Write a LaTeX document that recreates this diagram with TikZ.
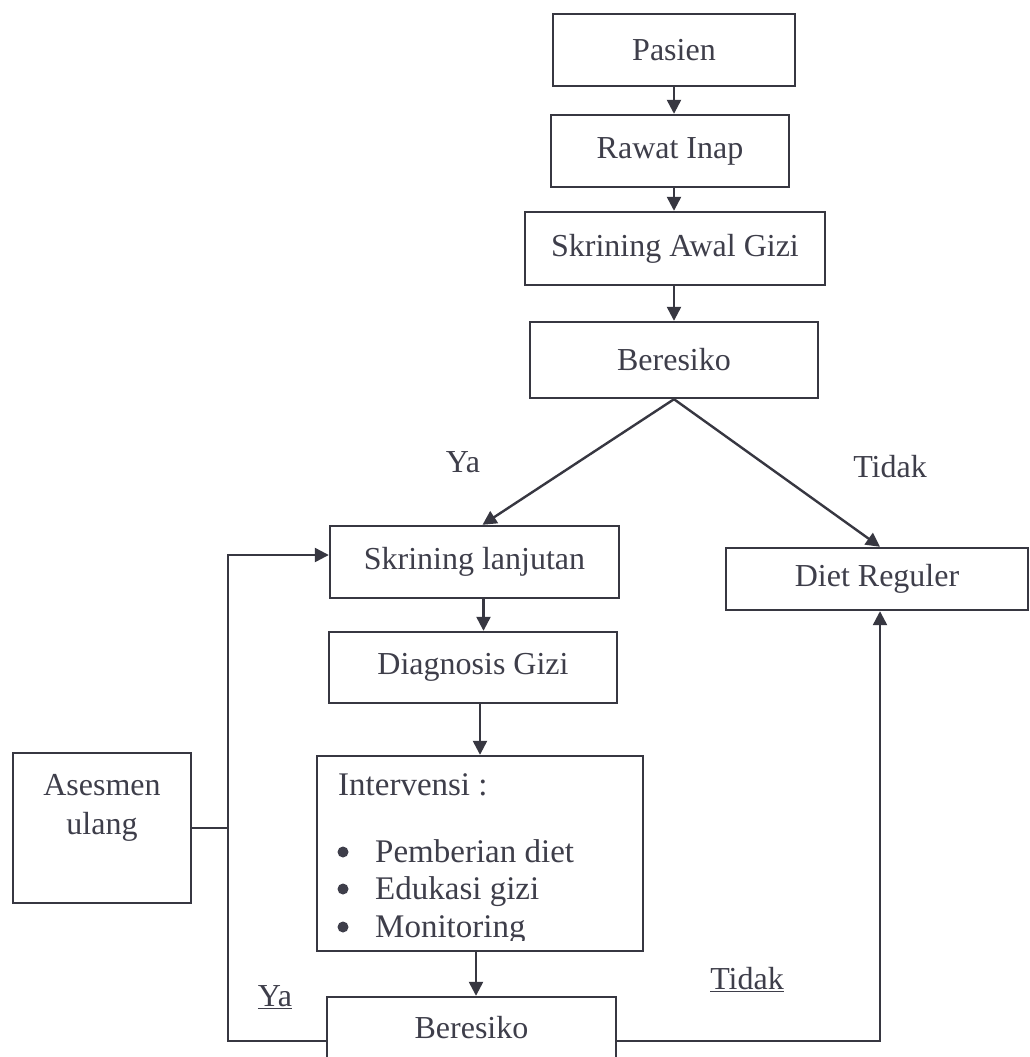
\documentclass[tikz,border=0pt]{standalone}
\usepackage{fontspec}
\setmainfont{Liberation Serif}
\usetikzlibrary{arrows.meta,calc}
\definecolor{txt}{RGB}{62,62,74}
\definecolor{ln}{RGB}{55,55,65}
\begin{document}
\begin{tikzpicture}[x=1pt,y=-1pt,
  box/.style={draw=ln, line width=2.4pt, text=txt, inner sep=0pt, font=\fontsize{32}{39}\selectfont, align=center},
  lbl/.style={text=txt, inner sep=0pt, font=\fontsize{32}{39}\selectfont},
  arr/.style={draw=ln, line width=2.4pt, -{Triangle[length=14pt,width=14pt]}},
  con/.style={draw=ln, line width=2.4pt},
  lst/.style={text=txt, inner sep=0pt, font=\fontsize{33}{40}\selectfont, anchor=base west},
  bul/.style={circle, fill=txt, inner sep=0pt, minimum size=11pt}]
\useasboundingbox (0,0) rectangle (1030,1057);
\fill[white] (0,0) rectangle (1030,1057);
\clip (0,0) rectangle (1030,1057);

\node[box, minimum width=242pt, minimum height=72pt] (pasien) at (674,50) {Pasien};
\node[box, minimum width=238pt, minimum height=72pt] (rawat) at (670,151) {Rawat Inap};
\node[box, minimum width=300pt, minimum height=73pt] (skrawal) at (675,248.5) {Skrining Awal Gizi};
\node[box, minimum width=288pt, minimum height=76pt] (ber1) at (674,360) {Beresiko};
\node[box, minimum width=289pt, minimum height=72pt] (sl) at (474.5,562) {Skrining lanjutan};
\node[box, minimum width=302pt, minimum height=62pt] (diet) at (877,579) {Diet Reguler};
\node[box, minimum width=288pt, minimum height=71pt] (diag) at (473,667.5) {Diagnosis Gizi};
\node[box, minimum width=326pt, minimum height=195pt] (int) at (480,853.5) {};
\node[box, minimum width=289pt, minimum height=62pt] (ber2) at (471.5,1028) {Beresiko};
\node[box, minimum width=178pt, minimum height=150pt, text depth=47pt] (ases) at (102,828) {Asesmen\\ulang};

\begin{scope}
\clip (317,756) rectangle (643,940);
\node[lst] (i0) at (338,795) {Intervensi :};
\node[lst] (i1) at (375,862) {Pemberian diet};
\node[lst] (i2) at (375,899) {Edukasi gizi};
\node[lst] (i3) at (375,937) {Monitoring};
\node[bul] (bu1) at (343,852) {};
\node[bul] (bu2) at (343,889) {};
\node[bul] (bu3) at (343,927) {};
\end{scope}

\node[lbl] (ya1) at (463,462) {Ya};
\node[lbl] (tdk1) at (890,467) {Tidak};
\node[lbl] (tdk2) at (747,980) {\underline{Tidak}};
\node[lbl] (ya2) at (275,997) {\underline{Ya}};

\draw[arr] (pasien.south) -- (pasien.south |- rawat.north);
\draw[arr] (rawat.south -| pasien.south) -- (pasien.south |- skrawal.north);
\draw[arr] (skrawal.south -| pasien.south) -- (pasien.south |- ber1.north);
\draw[arr] (ber1.south) -- ([xshift=8pt]sl.north);
\draw[arr] (ber1.south) -- ([xshift=3pt]diet.north);
\draw[arr] ([xshift=9pt]sl.south) -- ([xshift=9pt]sl.south |- diag.north);
\draw[arr] (int.north |- diag.south) -- (int.north);
\draw[arr] ([xshift=-4pt]int.south) -- ([xshift=-4pt]int.south |- ber2.north);

\coordinate (loopL) at (228,1041);
\coordinate (loopR) at (880,1041);
\draw[con] (ases.east) -- (ases.east -| loopL);
\draw[arr] (ber2.west |- loopL) -- (loopL) |- ([yshift=7pt]sl.west);
\draw[arr] (ber2.east |- loopR) -- (loopR) -- (loopR |- diet.south);
\end{tikzpicture}
\end{document}
